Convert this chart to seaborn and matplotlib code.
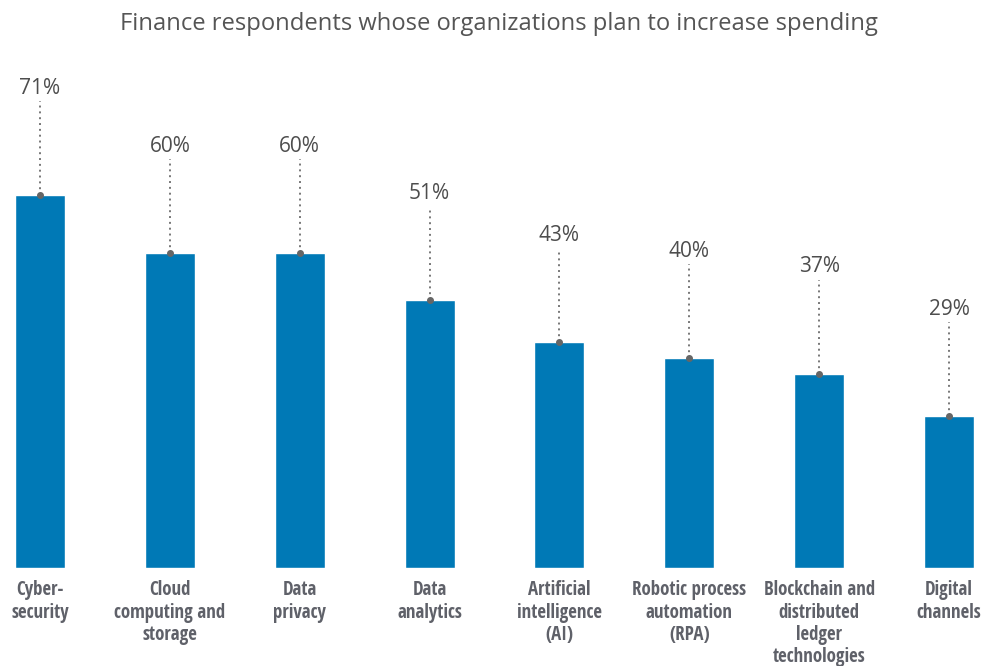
import numpy as np
import pandas as pd
import matplotlib.pyplot as plt
import seaborn as sns
from matplotlib import font_manager

categories = ["Cyber-\nsecurity", "Cloud\ncomputing and\nstorage", "Data\nprivacy",
              "Data\nanalytics", "Artificial\nintelligence\n(AI)",
              "Robotic process\nautomation\n(RPA)",
              "Blockchain and\ndistributed\nledger\ntechnologies",
              "Digital\nchannels"]
values = [71, 60, 60, 51, 43, 40, 37, 29]
labels = ["71%", "60%", "60%", "51%", "43%", "40%", "37%", "29%"]

sns.set_theme(style="white")
names = {f.name for f in font_manager.fontManager.ttflist}
plt.rcParams['font.family'] = ['Open Sans', 'DejaVu Sans']
cat_font = 'Open Sans Condensed' if 'Open Sans Condensed' in names else 'Open Sans'

df = pd.DataFrame({'cat': categories, 'val': values})

fig = plt.figure(figsize=(9.82, 6.66), dpi=100)
ax = fig.add_axes([0, 0.147, 1, 0.853])
sns.barplot(data=df, x='cat', y='val', color='#0079b6', saturation=1, width=0.385, ax=ax)

for i, (v, lab) in enumerate(zip(values, labels)):
    ax.plot([i, i], [v, v + 17.8], ls=(0, (1, 2)), color='#777777', lw=1.4)
    ax.plot(i, v, 'o', color='#666666', ms=4)
    ax.text(i, v + 20.3, lab, ha='center', va='center', fontsize=15, color='#4d4d4d')

ax.set_xlim(-0.308, 7.254)
ax.set_ylim(0, 108.1)
ax.axis('off')

for i, c in enumerate(categories):
    ax.text(i, -2.3, c, ha='center', va='top', fontsize=13.6, fontweight='bold',
            family=[cat_font, 'DejaVu Sans'], color='#5f6169', linespacing=1.16)

fig.text(0.508, 0.964, "Finance respondents whose organizations plan to increase spending",
         ha='center', va='center', fontsize=17.1, color='#555555')

fig.savefig('out.png', dpi=100)
